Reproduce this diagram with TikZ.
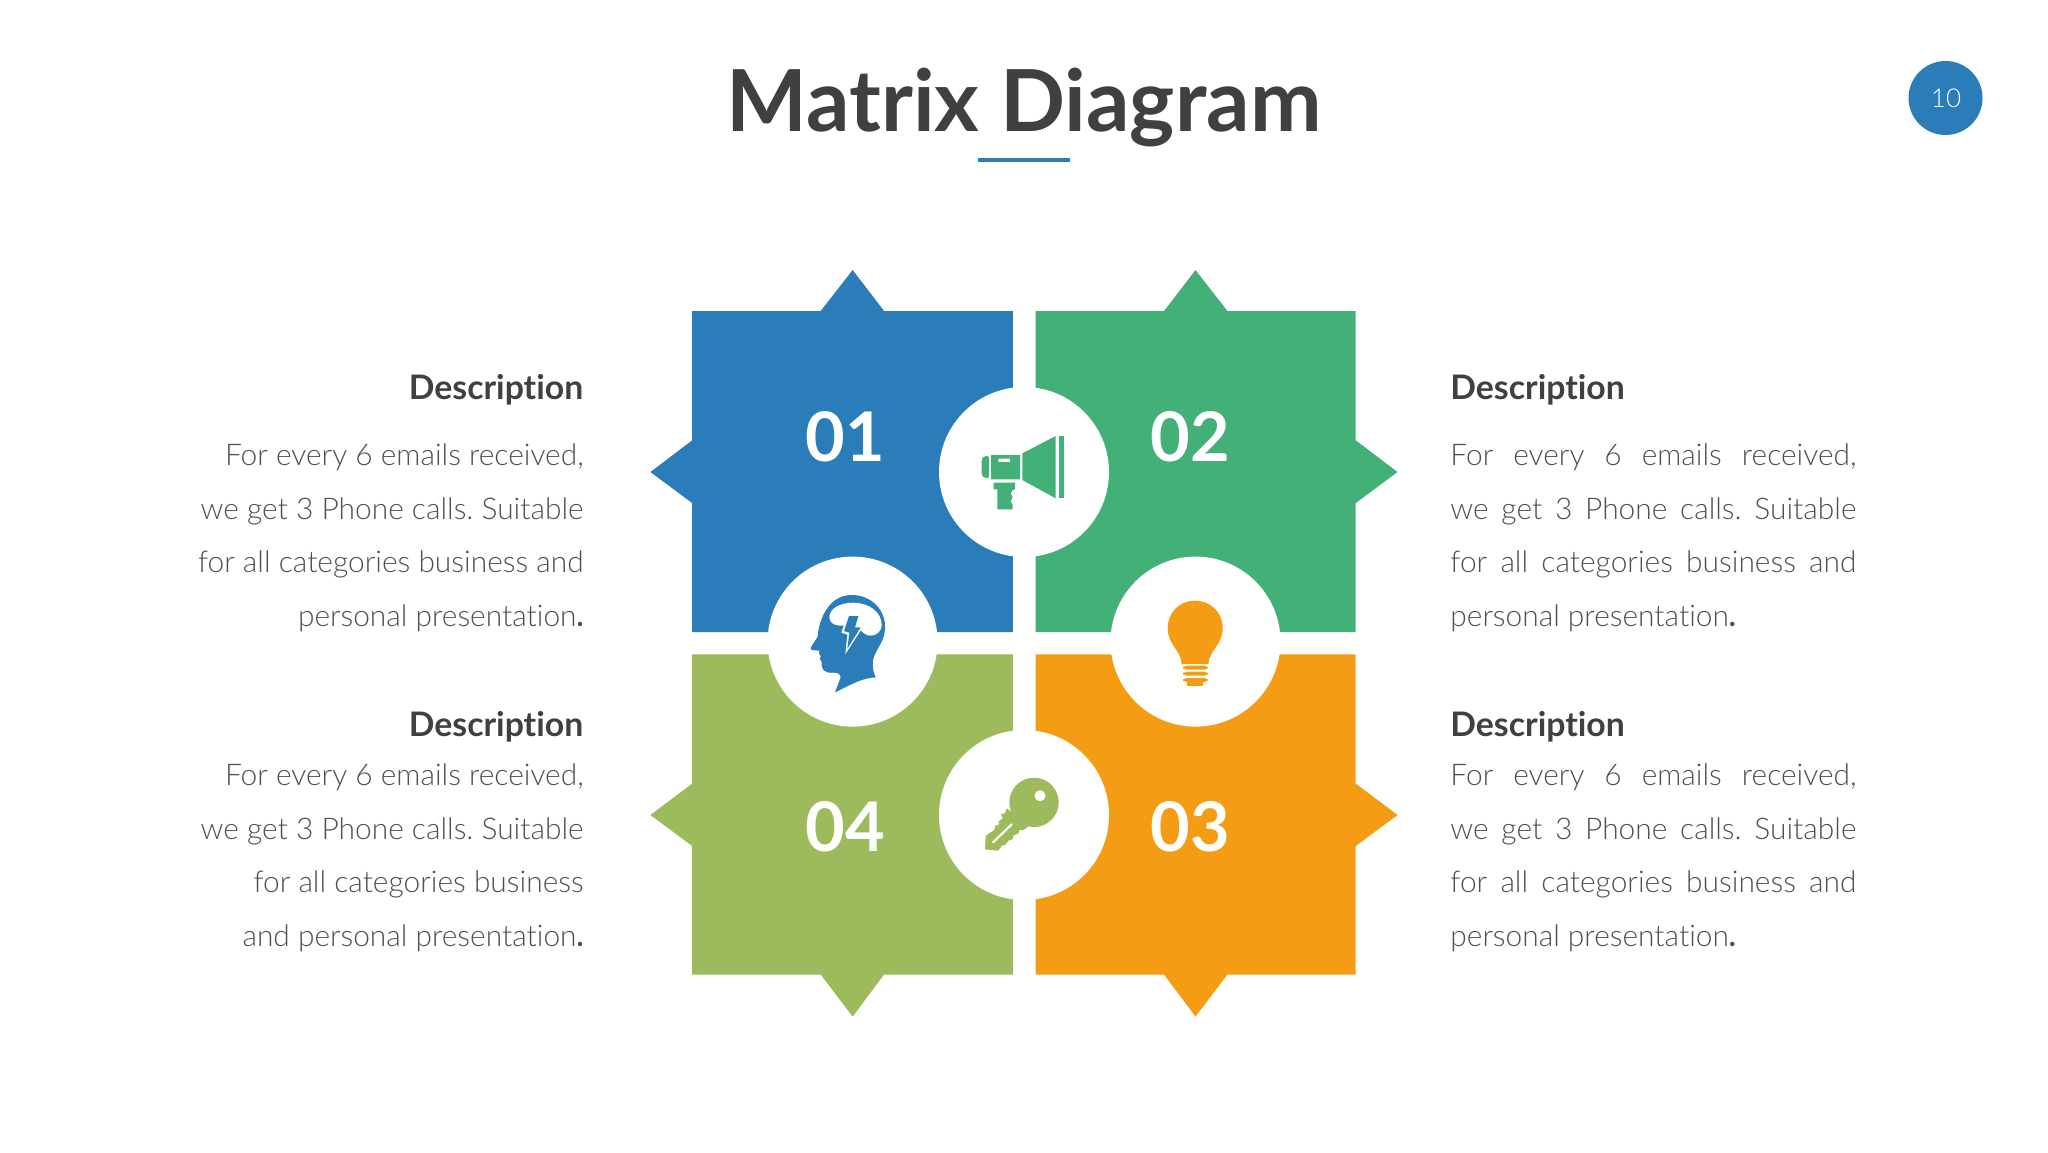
\documentclass[tikz,border=0pt]{standalone}
\usepackage{fontspec}
\setmainfont{Lato}[Ligatures=NoCommon]
\newfontfamily\latolight{Lato Light}[Ligatures=NoCommon]
\definecolor{cblue}{HTML}{2A7DB9}
\definecolor{cgreen}{HTML}{43B078}
\definecolor{colive}{HTML}{9DBB5C}
\definecolor{corange}{HTML}{F49C13}
\definecolor{ctext}{HTML}{404040}
\definecolor{cbody}{HTML}{505050}
\newcommand{\fs}[1]{\fontsize{#1}{#1}\selectfont\frenchspacing}
\newcommand{\just}[1]{\makebox[203pt][s]{#1}}
\newcommand{\pd}{{\normalfont\bfseries .}}
\tikzset{
  px/.style={x=0.5pt,y=-0.5pt},
  title/.style={inner sep=0,anchor=base,text=ctext,font=\bfseries\fs{42.8}},
  headl/.style={inner sep=0,anchor=base east,text=ctext,font=\bfseries\fs{16.9}},
  headr/.style={inner sep=0,anchor=base west,text=ctext,font=\bfseries\fs{16.9}},
  bodyl/.style={inner sep=0,anchor=base east,text=cbody,font=\latolight\fs{14.95}},
  bodyr/.style={inner sep=0,anchor=base west,text=cbody,font=\latolight\fs{14.95}},
  num/.style={inner sep=0,anchor=base,text=white,font=\bfseries\fs{34.2}},
  hole/.style={fill=white,draw=none},
  icon/.style={shift={(#1)},x=0.1667pt,y=-0.1667pt},
}
\begin{document}
\begin{tikzpicture}[px]
\useasboundingbox (0,0) rectangle (2048,1152);
\fill[white] (0,0) rectangle (2048,1152);

% title
\node[title] (ttl) at (1024,131) {Matrix Diagram};
\fill[cblue] (978,157.5) rectangle (1070,162);
\node[circle,fill=cblue,minimum size=18.5pt*2,inner sep=0] (pg) at (1945.5,98) {};
\node[inner sep=0,anchor=base,text=white,font=\latolight\fs{13}] (pgn) at (1946,107.5) {10};

% tiles
\fill[cblue] (692.2,311) -- (820.7,311) -- (852.6,270) -- (884.1,311) -- (1012.8,311) -- (1012.8,632) -- (692.2,632) -- (692.2,503.1) -- (650.4,472) -- (692.2,440.3) -- cycle;
\fill[cgreen] (1035.5,311) -- (1164,311) -- (1195.5,270) -- (1227.4,311) -- (1355.7,311) -- (1355.7,440.3) -- (1397.5,472) -- (1355.7,503.1) -- (1355.7,632) -- (1035.5,632) -- cycle;
\fill[colive] (692.2,654.4) -- (1012.8,654.4) -- (1012.8,974.5) -- (884.1,974.5) -- (852.6,1016.6) -- (820.7,974.5) -- (692.2,974.5) -- (692.2,846) -- (650.4,815) -- (692.2,783.6) -- cycle;
\fill[corange] (1035.5,654.4) -- (1355.7,654.4) -- (1355.7,783.6) -- (1397.5,815) -- (1355.7,846) -- (1355.7,974.5) -- (1227.4,974.5) -- (1195.5,1016.6) -- (1164,974.5) -- (1035.5,974.5) -- cycle;

% white discs
\node[circle,hole,minimum size=85pt,inner sep=0] (c1) at (1024,472) {};
\node[circle,hole,minimum size=85pt,inner sep=0] (c2) at (852.6,641.6) {};
\node[circle,hole,minimum size=85pt,inner sep=0] (c3) at (1195.5,641.6) {};
\node[circle,hole,minimum size=85pt,inner sep=0] (c4) at (1024,815) {};

% numbers
\node[num] (n1) at (845,461.5) {01};
\node[num] (n2) at (1190.3,461.5) {02};
\node[num] (n3) at (1190.3,851.5) {03};
\node[num] (n4) at (845,851.5) {04};

% megaphone
\begin{scope}[icon={940,400}]
\fill[cgreen,rounded corners=1pt] (147,168) -- (132,168) -- (125,176) -- (125,226) -- (132,234) -- (147,234) -- cycle;
\fill[cgreen,even odd rule] (153,165) rectangle (240,238) (175,176) rectangle (210,186);
\fill[cgreen] (247,160) -- (347,108) -- (347,295) -- (247,240) -- cycle;
\fill[cgreen] (358,108) rectangle (371,295);
\fill[cgreen] (161,248) -- (225,248) -- (225,268) -- (218,270) -- (212,280) -- (218,292) -- (212,303) -- (218,315) -- (218,328) -- (172,328) -- (172,268) -- (161,268) -- cycle;
\end{scope}

% head
\begin{scope}[icon={770,570}]
\fill[cblue] (195,367) -- (212,322) .. controls (210,312) and (205,308) .. (190,308) .. controls (165,310) and (152,300) .. (155,275) -- (150,268) -- (152,258) -- (147,250) -- (148,242) -- (125,240) .. controls (120,238) and (122,232) .. (125,228) -- (143,200) .. controls (145,160) and (170,75) .. (245,75) .. controls (305,75) and (345,120) .. (345,170) .. controls (345,225) and (305,245) .. (308,285) .. controls (309,300) and (312,315) .. (318,322) .. controls (280,322) and (240,345) .. (195,367) -- cycle;
\fill[white] (178,140) .. controls (180,115) and (210,98) .. (250,98) .. controls (295,98) and (335,125) .. (335,165) .. controls (335,190) and (305,205) .. (285,192) .. controls (275,185) and (272,178) .. (262,180) -- (235,195) -- (230,165) .. controls (205,170) and (178,165) .. (178,140) -- cycle;
\fill[white] (232,132) -- (272,132) -- (262,166) -- (282,166) -- (226,252) -- (232,194) -- (214,188) -- cycle;
\fill[cblue] (237,138) -- (265,138) -- (255,172) -- (272,172) -- (232,236) -- (238,188) -- (222,183) -- cycle;
\end{scope}

% bulb
\begin{scope}[icon={1110,570}]
\fill[corange] (215,282) .. controls (213,240) and (173,225) .. (173,175) .. controls (173,125) and (210,92) .. (255,92) .. controls (300,92) and (338,125) .. (338,175) .. controls (338,225) and (297,240) .. (295,282) -- cycle;
\fill[corange,rounded corners=1.8pt] (219,287) rectangle (294,299);
\fill[corange,rounded corners=1.8pt] (219,305) rectangle (294,317);
\fill[corange,rounded corners=1.8pt] (219,324) rectangle (294,336);
\fill[corange] (232,336) rectangle (278,347);
\end{scope}

% key
\begin{scope}[icon={940,730}]
\fill[colive,even odd rule] (282,217) circle[radius=74] (300,197) circle[radius=17];
\fill[colive] (200,235) -- (195,250) -- (183,252) -- (188,265) -- (175,275) -- (178,283) -- (165,288) -- (163,300) -- (150,308) -- (137,318) -- (135,358) -- (175,362) -- (185,347) -- (195,345) -- (205,332) -- (218,327) -- (220,316) -- (235,311) -- (238,300) -- (250,300) -- (270,285) -- cycle;
\draw[white,line width=1.1pt] (158,338) -- (216,282);
\end{scope}

% left column
\node[headl] (lh1) at (583.7,399.5) {Description};
\node[bodyl] (l1a) at (584,465.5) {For every 6 emails received,};
\node[bodyl] (l1b) at (584,519) {we get 3 Phone calls. Suitable};
\node[bodyl] (l1c) at (584,572.7) {for all categories business and};
\node[bodyl] (l1d) at (584,626.3) {personal presentation\pd};
\node[headl] (lh2) at (583.7,736) {Description};
\node[bodyl] (l2a) at (584,785.3) {For every 6 emails received,};
\node[bodyl] (l2b) at (584,839) {we get 3 Phone calls. Suitable};
\node[bodyl] (l2c) at (584,892.6) {for all categories business};
\node[bodyl] (l2d) at (584,946.3) {and personal presentation\pd};

% right column
\node[headr] (rh1) at (1450,399.5) {Description};
\node[bodyr] (r1a) at (1450,465.5) {\just{For every 6 emails received,}};
\node[bodyr] (r1b) at (1450,519) {\just{we get 3 Phone calls. Suitable}};
\node[bodyr] (r1c) at (1450,572.7) {\just{for all categories business and}};
\node[bodyr] (r1d) at (1450,626.3) {personal presentation\pd};
\node[headr] (rh2) at (1450,736) {Description};
\node[bodyr] (r2a) at (1450,785.3) {\just{For every 6 emails received,}};
\node[bodyr] (r2b) at (1450,839) {\just{we get 3 Phone calls. Suitable}};
\node[bodyr] (r2c) at (1450,892.6) {\just{for all categories business and}};
\node[bodyr] (r2d) at (1450,946.3) {personal presentation\pd};
\end{tikzpicture}
\end{document}
